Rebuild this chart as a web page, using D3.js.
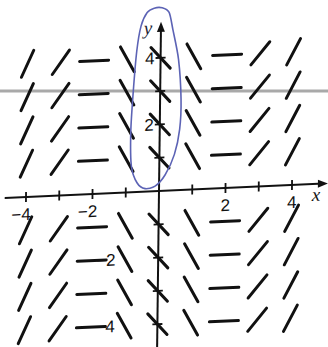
<!DOCTYPE html>
<html>
<head>
<meta charset="utf-8">
<script src="https://cdn.jsdelivr.net/npm/d3@7/dist/d3.min.js"></script>
<style>
  html, body { margin: 0; padding: 0; background: #fff; }
  svg { display: block; }
</style>
</head>
<body>
<svg id="chart" width="328" height="347"></svg>
<script>
// Slope field: grid columns, rows and the slope drawn in each column
const gridX = [-4, -3, -2, -1, 0, 1, 2, 3, 4];
const gridY = [4, 3, 2, 1, -1, -2, -3, -4];
const columnSlopes = [2.2, 1.4, 0, -1.8, -1.1, -1.8, 0, 1.2, 1.9];

// Axis ticks and labels
const xTicks = [-4, -3, -2, -1, 1, 2, 3, 4];
const xTickLabels = [-4, -2, 2, 4];
const yTicks = [4, 3, 2, 1, -1, -2, -3, -4];
const yTickLabels = [4, 2, -2, -4];

// Hand-drawn solution loop around the y-axis
const loopX = [-0.21, 0.03, 0.24, 0.36, 0.54, 0.63, 0.60, 0.45, 0.18, -0.12, -0.42, -0.66, -0.84, -0.87, -0.81, -0.72, -0.60, -0.42];
const loopY = [5.50, 5.50, 5.35, 4.83, 3.93, 2.73, 1.83, 1.08, 0.48, 0.15, 0.09, 0.27, 0.78, 1.83, 3.03, 4.23, 4.98, 5.38];

const svg = d3.select("#chart");

const x = d3.scaleLinear().domain([-4, 4]).range([26, 292]);
const y = d3.scaleLinear().domain([-4, 4]).range([324.2, 57.8]);
const unit = x(1) - x(0);

// light rule running across the whole sheet
svg.append("line")
  .attr("x1", 0).attr("x2", 328)
  .attr("y1", 91).attr("y2", 91)
  .attr("stroke", "#a9a9a9").attr("stroke-width", 3);

// the figure sits slightly askew on the page
const g = svg.append("g")
  .attr("transform", `matrix(1,-0.045,-0.012,1,${0.012 * y(0)},${0.045 * x(0)})`);

const ink = "#111";

// axes
g.append("line")
  .attr("x1", x(-4.64)).attr("x2", x(4.95))
  .attr("y1", y(0)).attr("y2", y(0))
  .attr("stroke", ink).attr("stroke-width", 2);
g.append("path")
  .attr("d", `M${x(5.08)},${y(0)} l-10,-4 l0,8 z`)
  .attr("fill", ink);

g.append("line")
  .attr("x1", x(0)).attr("x2", x(0))
  .attr("y1", y(-4.9)).attr("y2", y(4.95))
  .attr("stroke", ink).attr("stroke-width", 2);
g.append("path")
  .attr("d", `M${x(0)},${y(5.08)} l-4,10 l8,0 z`)
  .attr("fill", ink);

// tick marks
g.selectAll(".xtick").data(xTicks).join("line")
  .attr("class", "xtick")
  .attr("x1", d => x(d)).attr("x2", d => x(d))
  .attr("y1", y(0) - 5).attr("y2", y(0) + 5)
  .attr("stroke", ink).attr("stroke-width", 1.8);

g.selectAll(".ytick").data(yTicks).join("line")
  .attr("class", "ytick")
  .attr("x1", x(0) - 5).attr("x2", x(0) + 5)
  .attr("y1", d => y(d)).attr("y2", d => y(d))
  .attr("stroke", ink).attr("stroke-width", 1.8);

// slope segments
const half = 14.5 / unit;
const segs = [];
gridX.forEach((gx, i) => {
  const m = columnSlopes[i];
  const dx = half / Math.sqrt(1 + m * m);
  gridY.forEach(gy => segs.push({ x1: gx - dx, y1: gy - m * dx, x2: gx + dx, y2: gy + m * dx }));
});
g.selectAll(".seg").data(segs).join("line")
  .attr("class", "seg")
  .attr("x1", d => x(d.x1)).attr("y1", d => y(d.y1))
  .attr("x2", d => x(d.x2)).attr("y2", d => y(d.y2))
  .attr("stroke", ink).attr("stroke-width", 3)
  .attr("stroke-linecap", "round");

// solution loop
const loop = d3.line()
  .x(d => x(d[0])).y(d => y(d[1]))
  .curve(d3.curveCardinalClosed.tension(0.2));
g.append("path")
  .attr("d", loop(loopX.map((v, i) => [v, loopY[i]])))
  .attr("fill", "none")
  .attr("stroke", "#5c63b5").attr("stroke-width", 1.6);

// tick labels
const fmt = v => (v < 0 ? "\u2212" + Math.abs(v) : String(v));
g.selectAll(".xlab").data(xTickLabels).join("text")
  .attr("class", "xlab")
  .attr("x", d => d < 0 ? x(d) + 5 : x(d))
  .attr("y", y(0) + 23)
  .attr("text-anchor", d => d < 0 ? "end" : "middle")
  .attr("font-family", "Liberation Sans, Arial, sans-serif")
  .attr("font-size", 17)
  .attr("fill", ink)
  .text(fmt);

g.selectAll(".ylab").data(yTickLabels).join("text")
  .attr("class", "ylab")
  .attr("x", d => d < 0 ? x(-1.28) : x(0) - 6)
  .attr("y", d => y(d) + 6)
  .attr("text-anchor", "end")
  .attr("font-family", "Liberation Sans, Arial, sans-serif")
  .attr("font-size", 17)
  .attr("fill", ink)
  .text(fmt);

// axis names
g.append("text")
  .attr("x", x(4.6)).attr("y", y(0) + 17)
  .attr("font-family", "Liberation Serif, Times New Roman, serif")
  .attr("font-style", "italic").attr("font-size", 19)
  .attr("fill", ink).text("x");
g.append("text")
  .attr("x", x(0) - 17).attr("y", y(4.72))
  .attr("font-family", "Liberation Serif, Times New Roman, serif")
  .attr("font-style", "italic").attr("font-size", 19)
  .attr("fill", "#223").text("y");
</script>
</body>
</html>
